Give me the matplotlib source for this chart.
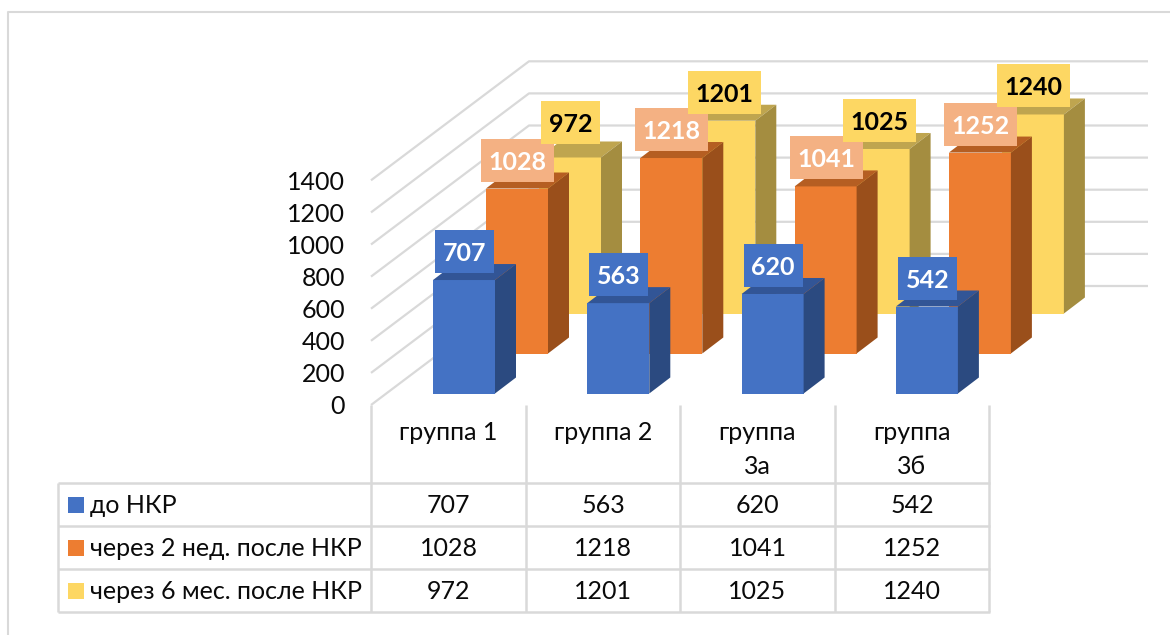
import matplotlib
matplotlib.use("Agg")
import matplotlib.pyplot as plt
from matplotlib.patches import Polygon, Rectangle

plt.rcParams['font.family'] = ['Lato', 'DejaVu Sans']

groups = ["группа 1", "группа 2", "группа\n3а", "группа\n3б"]
series_names = ["до НКР", "через 2 нед. после НКР", "через 6 мес. после НКР"]
do_nkr = [707, 563, 620, 542]
two_weeks = [1028, 1218, 1041, 1252]
six_months = [972, 1201, 1025, 1240]
y_ticks = [0, 200, 400, 600, 800, 1000, 1200, 1400]

front = ["#4472C4", "#ED7D31", "#FDD763"]
top = ["#325596", "#B55E22", "#BFA54F"]
side = ["#2B4A80", "#9A4F1B", "#A48D40"]
label_bg = ["#4472C4", "#F4B183", "#FDD763"]
label_fg = ["white", "white", "black"]
grid = "#D9D9D9"
ink = "#0A0A0A"
fs = 18

# pixel layout of the fake 3d box
px_per_unit = 0.1605
bar_w = 62
depth_x, depth_y = 21, 16
group_step = 154.3
series_dx, series_dy = 53, 40
bar_x0, bar_y0 = 433, 393.5
wall_x0, wall_y0 = 371, 405
wall_x1, wall_y1, wall_x2 = 529, 286, 1148

fig = plt.figure(figsize=(11.7, 6.35), dpi=100)
ax = fig.add_axes([0, 0, 1, 1])
ax.set_xlim(0, 1170)
ax.set_ylim(635, 0)
ax.axis("off")


def line(xs, ys, lw=1.6, color=grid, z=1):
    ax.plot(xs, ys, color=color, lw=lw, zorder=z, solid_capstyle="butt")


# chart frame
line([8, 8, 1170], [635, 12, 12], lw=1.5)

# walls
for t in y_ticks:
    h = t * px_per_unit
    line([wall_x0, wall_x1, wall_x2], [wall_y0 - h, wall_y1 - h, wall_y1 - h])
    ax.text(345, wall_y0 - t * 0.16, str(t), ha="right", va="center_baseline", fontsize=fs, color=ink)

# bars, back row first
all_values = [do_nkr, two_weeks, six_months]
z = 2
for s in [2, 1, 0]:
    for g in range(4):
        v = all_values[s][g]
        x0 = bar_x0 + g * group_step + s * series_dx
        x1 = x0 + bar_w
        bot = bar_y0 - s * series_dy
        tp = bot - v * px_per_unit
        ax.add_patch(Rectangle((x0, tp), bar_w, bot - tp, fc=front[s], ec="none", zorder=z))
        ax.add_patch(Polygon([(x0, tp), (x1, tp), (x1 + depth_x, tp - depth_y), (x0 + depth_x, tp - depth_y)],
                             fc=top[s], ec="none", zorder=z))
        ax.add_patch(Polygon([(x1, bot), (x1 + depth_x, bot - depth_y), (x1 + depth_x, tp - depth_y), (x1, tp)],
                             fc=side[s], ec="none", zorder=z))
        z += 1

# data labels sit above all bars, yellow ones on top
for s in [0, 1, 2]:
    for g in range(4):
        v = all_values[s][g]
        x0 = bar_x0 + g * group_step + s * series_dx
        tp = bar_y0 - s * series_dy - v * px_per_unit
        cx = x0 + bar_w / 2 + 0.5
        cy = tp - 28.5
        if v == 972:  # this label was moved by hand in the original
            cy -= 6
        w = 73 if v >= 1000 else 59
        ax.add_patch(Rectangle((cx - w / 2, cy - 21.5), w, 43, fc=label_bg[s], ec="none", zorder=50 + s))
        ax.text(cx, cy, str(v), ha="center", va="center_baseline", fontsize=fs, fontweight="bold",
                color=label_fg[s], zorder=50 + s)

# data table
col_x = [371, 526, 680, 835, 989]
row_y = [483, 526, 569, 612]
for y in row_y:
    line([58, 990], [y, y], lw=1.8)
line([58, 58], [483, 612], lw=1.8)
for x in col_x:
    line([x, x], [405, 612], lw=1.8)

for g, name in enumerate(groups):
    cx = (col_x[g] + col_x[g + 1]) / 2
    ax.text(cx, 421.5, name, ha="center", va="top", fontsize=fs, color=ink, linespacing=1.57)

for s, name in enumerate(series_names):
    cy = (row_y[s] + row_y[s + 1]) / 2
    ax.add_patch(Rectangle((68, cy - 8), 16, 16, fc=front[s], ec="none", zorder=5))
    ax.text(90, cy - 1, name, ha="left", va="center_baseline", fontsize=fs, color=ink)
    for g in range(4):
        ax.text((col_x[g] + col_x[g + 1]) / 2, cy - 1, str(all_values[s][g]), ha="center", va="center_baseline",
                fontsize=fs, color=ink)

fig.savefig("out.png", dpi=100)
